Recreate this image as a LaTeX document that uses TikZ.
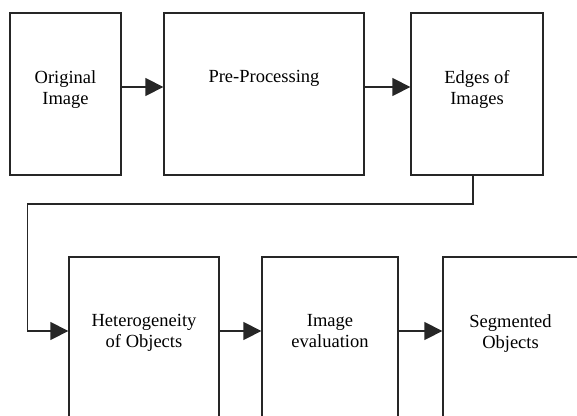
\documentclass[tikz,border=0pt]{standalone}
\usepackage{fontspec}
\setmainfont{Liberation Serif}
\usetikzlibrary{arrows.meta}
\usetikzlibrary{positioning}

\tikzset{
blk/.style={draw=black!85,line width=1.3pt,rectangle,minimum width=#1,minimum height=162pt,inner sep=0pt},
txt/.style={font=\fontsize{18.5}{21}\selectfont,align=center,inner sep=0pt},
flow/.style={draw=black!85,line width=1.3pt,-{Triangle[length=18pt,width=18pt]}}
}

\begin{document}
\begin{tikzpicture}[x=1pt,y=-1pt]
\useasboundingbox (0,0) rectangle (577,415);
\clip (0,0) rectangle (577,415);
\node[blk=111pt] (orig) at (65.5,94) {};
\node[blk=200pt] (prep) at (264,94) {};
\node[blk=132pt] (edges) at (477,94) {};
\node[blk=150pt] (hetero) at (144,338) {};
\node[blk=136pt] (evalu) at (330,338) {};
\node[blk=135pt] (segm) at (510.5,338) {};

\node[txt,below=58pt of orig.north] (orig-t) {Original\\Image};
\node[txt,below=58pt of prep.north] (prep-t) {Pre-Processing};
\node[txt,below=58pt of edges.north] (edges-t) {Edges of\\Images};
\node[txt,below=58pt of hetero.north] (hetero-t) {Heterogeneity\\of Objects};
\node[txt,below=58pt of evalu.north] (evalu-t) {Image\\evaluation};
\node[txt,below=58pt of segm.north] (segm-t) {Segmented\\Objects};

\coordinate (bend) at (27.7,204);
\draw[flow] ([yshift=7pt]orig.east) -- ([yshift=7pt]prep.west);
\draw[flow] ([yshift=7pt]prep.east) -- ([yshift=7pt]edges.west);
\draw[flow] ([xshift=-4pt]edges.south) |- (bend) |- ([yshift=7pt]hetero.west);
\draw[flow] ([yshift=7pt]hetero.east) -- ([yshift=7pt]evalu.west);
\draw[flow] ([yshift=7pt]evalu.east) -- ([yshift=7pt]segm.west);
\end{tikzpicture}
\end{document}
